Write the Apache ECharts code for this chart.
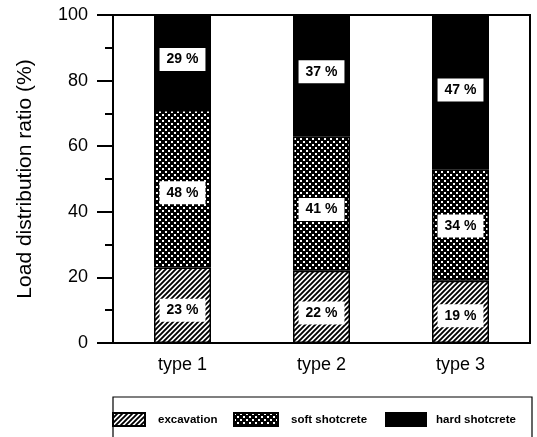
<!DOCTYPE html>
<html>
<head>
<meta charset="utf-8">
<script src="https://cdn.jsdelivr.net/npm/echarts@6/dist/echarts.min.js"></script>
<style>html,body{margin:0;padding:0;background:#fff}#c{width:537px;height:437px}</style>
</head>
<body>
<div id="c"></div>
<script>
// ---- data ----
const categories = ['type 1', 'type 2', 'type 3'];
const excavation = [23, 22, 19];
const softShotcrete = [48, 41, 34];
const hardShotcrete = [29, 37, 47];
const seriesNames = ['excavation', 'soft shotcrete', 'hard shotcrete'];
const yTicks = [0, 20, 40, 60, 80, 100];

// ---- label vertical nudges (style only) ----
const labelNudge = {
  excavation: [5, 6, 4],
  soft: [4, 6, 1],
  hard: [-3, -4, -2]
};

function hatchPattern() {
  const c = document.createElement('canvas');
  c.width = 5; c.height = 5;
  const g = c.getContext('2d');
  g.fillStyle = '#fff'; g.fillRect(0, 0, 5, 5);
  g.strokeStyle = '#000'; g.lineWidth = 1.9;
  g.beginPath();
  g.moveTo(-1, 6); g.lineTo(6, -1);
  g.moveTo(-1, 1); g.lineTo(1, -1);
  g.moveTo(4, 6); g.lineTo(6, 4);
  g.stroke();
  return c;
}
function dotPattern() {
  const c = document.createElement('canvas');
  c.width = 6; c.height = 6;
  const g = c.getContext('2d');
  g.fillStyle = '#000'; g.fillRect(0, 0, 6, 6);
  g.fillStyle = '#fff';
  g.fillRect(0, 0, 2, 2);
  g.fillRect(3, 3, 2, 2);
  return c;
}

const FONT = 'Liberation Sans, Arial, sans-serif';
const chart = echarts.init(document.getElementById('c'), null, {renderer: 'canvas'});
const fills = [
  {image: hatchPattern(), repeat: 'repeat'},
  {image: dotPattern(), repeat: 'repeat'},
  '#000'
];
const dataSets = [excavation, softShotcrete, hardShotcrete];
const nudges = [labelNudge.excavation, labelNudge.soft, labelNudge.hard];

const series = dataSets.map((arr, si) => ({
  name: seriesNames[si],
  type: 'bar',
  stack: 'total',
  barWidth: 57,
  itemStyle: {color: fills[si], borderColor: '#000', borderWidth: 1.5},
  data: arr.map((v, i) => ({
    value: v,
    label: {offset: [0, nudges[si][i]]}
  })),
  label: {
    show: true,
    position: 'inside',
    formatter: '{c} %',
    color: '#000',
    fontFamily: FONT,
    fontWeight: 'bold',
    fontSize: 14,
    backgroundColor: '#fff',
    padding: [5, 7, 4, 7]
  },
  emphasis: {disabled: true}
}));

const legendLayout = [
  {left: 112, itemWidth: 32, pad: 8},
  {left: 233, itemWidth: 44, pad: 8},
  {left: 385, itemWidth: 40, pad: 5}
];
const legends = seriesNames.map((n, i) => ({
  data: [n],
  left: legendLayout[i].left, top: 412,
  padding: 0,
  icon: 'rect',
  itemWidth: legendLayout[i].itemWidth, itemHeight: 13,
  textStyle: {color: '#000', fontSize: 11.5, fontWeight: 'bold', fontFamily: FONT, padding: [0, 0, 0, legendLayout[i].pad]},
  selectedMode: false
}));

chart.setOption({
  animation: false,
  backgroundColor: '#fff',
  textStyle: {fontFamily: FONT},
  grid: {left: 113, right: 7, top: 15, bottom: 94, show: true, borderColor: '#000', borderWidth: 2, backgroundColor: 'transparent'},
  legend: legends,
  graphic: [{
    type: 'rect', shape: {x: 113, y: 397, width: 419, height: 60},
    style: {fill: 'none', stroke: '#000', lineWidth: 1.2}, z: -1
  }],
  xAxis: {
    type: 'category',
    data: categories,
    axisLine: {lineStyle: {color: '#000', width: 2}},
    axisTick: {alignWithLabel: true, length: 11, lineStyle: {color: '#000', width: 2}},
    axisLabel: {color: '#000', fontSize: 18, margin: 13}
  },
  yAxis: {
    type: 'value',
    min: yTicks[0], max: yTicks[yTicks.length - 1], interval: 20,
    name: 'Load distribution ratio (%)',
    nameLocation: 'middle',
    nameGap: 77,
    nameTextStyle: {color: '#000', fontSize: 21},
    axisLine: {show: true, lineStyle: {color: '#000', width: 2}},
    axisTick: {show: true, length: 16, lineStyle: {color: '#000', width: 2}},
    minorTick: {show: true, splitNumber: 2, length: 8, lineStyle: {color: '#000', width: 2}},
    splitLine: {show: false},
    axisLabel: {color: '#000', fontSize: 18, margin: 25}
  },
  series: series
});
</script>
</body>
</html>
